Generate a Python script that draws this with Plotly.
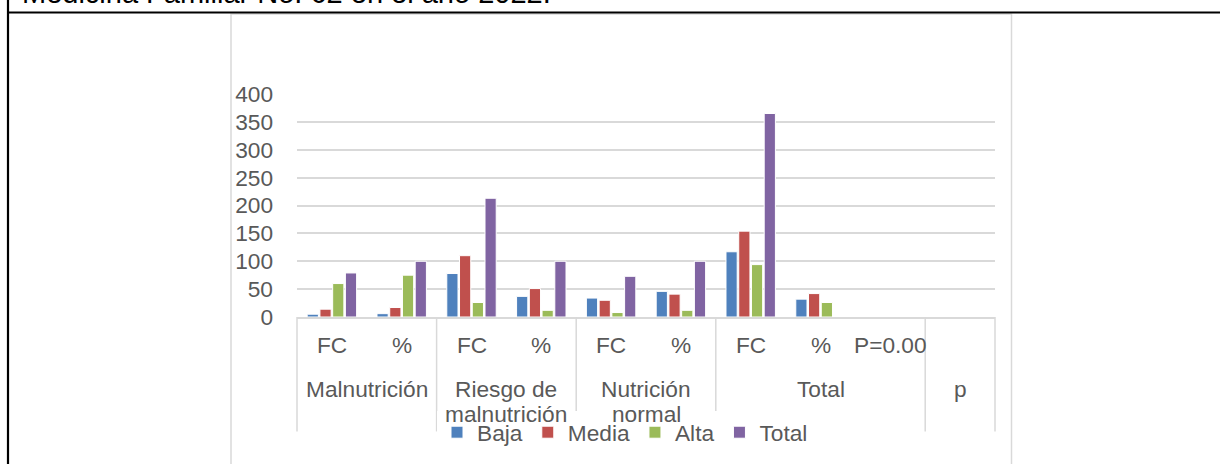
import plotly.graph_objects as go

# ---------------- data ----------------
subcats = ["FC", "%", "FC", "%", "FC", "%", "FC", "%", "P=0.00", ""]
groups = ["Malnutrición", "Riesgo de<br>malnutrición", "Nutrición<br>normal", "Total", "p"]
group_sizes = [2, 2, 2, 3, 1]
cat_ids = ["Mal FC", "Mal %", "Rie FC", "Rie %", "Nut FC", "Nut %", "Tot FC", "Tot %", "Tot P", "p"]

baja = [5, 6, 78, 37, 34, 46, 117, 32, None, None]
media = [14, 17, 110, 51, 30, 41, 154, 42, None, None]
alta = [60, 75, 26, 12, 8, 12, 94, 26, None, None]
total = [79, 100, 213, 100, 73, 100, 365, None, None, None]

series_names = ["Baja", "Media", "Alta", "Total"]
series_values = [baja, media, alta, total]
series_colors = ["#4F81BD", "#C0504D", "#9BBB59", "#8064A2"]

title_text = "Medicina Familiar No. 62 en el año 2022."

# ---------------- layout geometry (pixels) ----------------
W, H = 1220, 464
PL, PR, PT, PB = 297, 995, 94, 316.7  # plot area
pw, ph = PR - PL, PB - PT


def px(x):
    return (x - PL) / pw


def py(y):
    return (PB - y) / ph


FONT = "Liberation Sans, Arial, sans-serif"
GREY_TXT = "#595959"
GRID = "#d9d9d9"
FS = 22.7

fig = go.Figure()
for name, vals, col in zip(series_names, series_values, series_colors):
    fig.add_trace(go.Bar(
        x=cat_ids, y=vals, name=name,
        marker=dict(color=col, line=dict(color="white", width=1)),
    ))

n = len(cat_ids)
annotations = []
shapes = []

# sub-category labels
for i, lab in enumerate(subcats):
    if lab:
        annotations.append(dict(
            x=(i + 0.5) / n, y=py(345), xref="paper", yref="paper",
            text=lab, showarrow=False, xanchor="center", yanchor="middle",
            font=dict(family=FONT, size=FS, color=GREY_TXT)))

# group labels and dividers
start = 0
bounds = [0]
for g, s in zip(groups, group_sizes):
    center = start + s / 2
    lines = g.split("<br>")
    for k, ln in enumerate(lines):
        annotations.append(dict(
            x=center / n, y=py(389 + 25 * k), xref="paper", yref="paper",
            text=ln, showarrow=False, xanchor="center", yanchor="middle",
            font=dict(family=FONT, size=FS, color=GREY_TXT)))
    start += s
    bounds.append(start)

for b in bounds:
    shapes.append(dict(type="line", xref="paper", yref="paper",
                       x0=b / n, x1=b / n, y0=0, y1=py(431),
                       line=dict(color=GRID, width=1.5)))

# title (cut at top of page)
annotations.append(dict(
    x=px(20), y=py(11), xref="paper", yref="paper", text=title_text,
    showarrow=False, xanchor="left", yanchor="bottom",
    font=dict(family=FONT, size=29, color="black")))

# chart frame
shapes.append(dict(type="rect", xref="paper", yref="paper",
                   x0=px(231), x1=px(1011.5), y0=py(14), y1=py(475),
                   line=dict(color=GRID, width=1.5)))
# table borders (black)
shapes.append(dict(type="line", xref="paper", yref="paper",
                   x0=px(7), x1=px(1225), y0=py(12.5), y1=py(12.5),
                   line=dict(color="black", width=2)))
shapes.append(dict(type="line", xref="paper", yref="paper",
                   x0=px(8), x1=px(8), y0=py(-5), y1=py(470),
                   line=dict(color="black", width=2.2)))

fig.update_layout(
    width=W, height=H,
    margin=dict(l=PL, r=W - PR, t=PT, b=H - PB, pad=0, autoexpand=False),
    paper_bgcolor="white", plot_bgcolor="white",
    barmode="group", bargap=0.27, bargroupgap=0.12,
    font=dict(family=FONT, size=FS, color=GREY_TXT),
    xaxis=dict(type="category", categoryorder="array", categoryarray=cat_ids,
               range=[-0.5, n - 0.5], showticklabels=False, showgrid=False,
               showline=True, linecolor=GRID, linewidth=1.5, ticks="",
               zeroline=False, fixedrange=True),
    yaxis=dict(range=[0, 400], dtick=50, showgrid=True, gridcolor=GRID,
               gridwidth=1.5, zeroline=False, showline=False, ticks="",
               tickfont=dict(family=FONT, size=FS, color=GREY_TXT),
               ticklabelstandoff=23),
    legend=dict(orientation="h", x=px(625), xanchor="center",
                y=py(432), yanchor="middle", bgcolor="white",
                font=dict(family=FONT, size=FS, color=GREY_TXT),
                traceorder="normal", itemwidth=30, tracegroupgap=0),
    annotations=annotations, shapes=shapes,
)

fig.write_html("out.html",
               config={"displayModeBar": False},
               post_script="document.body.style.margin='0px';"
                           "document.body.style.overflow='hidden';")
